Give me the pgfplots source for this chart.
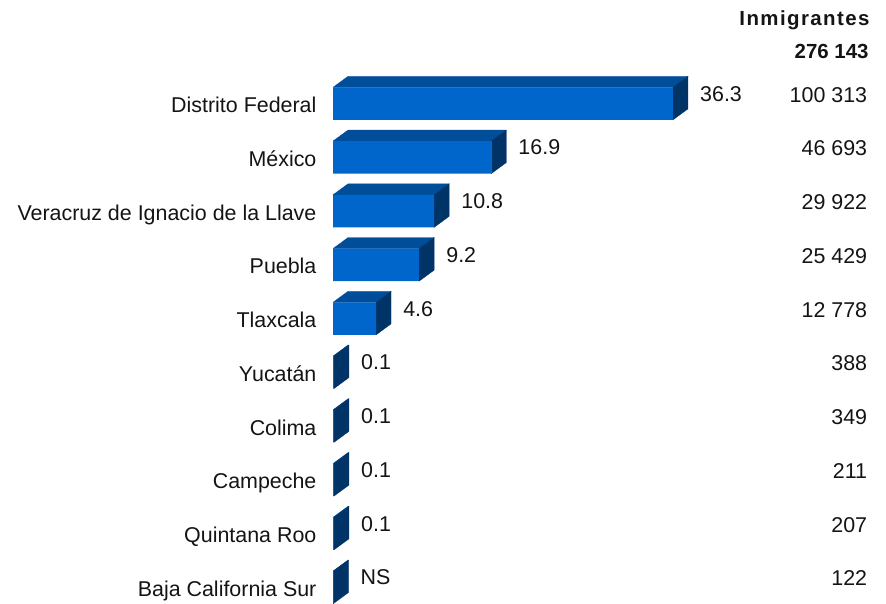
\documentclass[border=0pt]{standalone}
\usepackage{pgfplots}
\usepackage{pgfplotstable}
\pgfplotsset{compat=1.18}
\usepackage{fontspec}
\setmainfont{Liberation Sans}
\newfontfamily\headfont[LetterSpace=7]{Liberation Sans}
\definecolor{front}{RGB}{0,102,204}
\definecolor{topc}{RGB}{0,77,153}
\definecolor{sidec}{RGB}{0,51,102}
\definecolor{txt}{RGB}{20,20,20}

\pgfplotstableread[col sep=comma]{
idx,val,lab,count,name
0,36.3,36.3,100 313,Distrito Federal
1,16.9,16.9,46 693,México
2,10.8,10.8,29 922,Veracruz de Ignacio de la Llave
3,9.2,9.2,25 429,Puebla
4,4.6,4.6,12 778,Tlaxcala
5,0.1,0.1,388,Yucatán
6,0.1,0.1,349,Colima
7,0.1,0.1,211,Campeche
8,0.1,0.1,207,Quintana Roo
9,0.04,NS,122,Baja California Sur
}\data

\begin{document}
\begin{tikzpicture}
\begin{axis}[
  scale only axis, width=886bp, height=604bp,
  xmin=-35.554, xmax=59.043, ymin=-1.9274, ymax=9.3098,
  y dir=reverse, hide axis, clip=false,
  every node near coord/.append style={font=\fontsize{21.5}{25}\selectfont, text=txt},
]
% 3D top and side faces
\pgfplotsinvokeforeach{0,...,9}{
  \pgfplotstablegetelem{#1}{val}\of\data
  \pgfmathsetmacro\xv{\pgfplotsretval}
  \pgfmathsetmacro\xe{\xv+1.6015}
  \pgfmathsetmacro\yt{#1-0.3023}
  \pgfmathsetmacro\yb{#1+0.3023}
  \pgfmathsetmacro\ytt{#1-0.3023-0.2047}
  \pgfmathsetmacro\ybb{#1+0.3023-0.2047}
  \edef\temp{%
    \noexpand\addplot[fill=topc, draw=topc, line width=0.3bp, mark=none] coordinates {(0,\yt) (\xv,\yt) (\xe,\ytt) (1.6015,\ytt) (0,\yt)};
    \noexpand\addplot[fill=sidec, draw=sidec, line width=0.3bp, mark=none] coordinates {(\xv,\yt) (\xe,\ytt) (\xe,\ybb) (\xv,\yb) (\xv,\yt)};
  }
  \temp
}
% front faces with value labels
\addplot[xbar, bar width=32.5bp, bar shift=0pt, fill=front, draw=none,
  nodes near coords, point meta=explicit symbolic,
  nodes near coords style={anchor=base west, inner sep=0pt, xshift=27bp, yshift=2.5bp}]
  table[x=val, y=idx, meta=lab] {\data};
% category names
\addplot[draw=none, mark=none, nodes near coords, point meta=explicit symbolic,
  nodes near coords style={anchor=base east, inner sep=0pt, yshift=-9bp}]
  table[x expr=-1.75, y=idx, meta=name] {\data};
% immigrant counts
\addplot[draw=none, mark=none, nodes near coords, point meta=explicit symbolic,
  nodes near coords style={anchor=base east, inner sep=0pt, yshift=1.5bp}]
  table[x expr=57.05, y=idx, meta=count] {\data};
\node[anchor=base east, inner sep=0pt, text=txt, font=\headfont\bfseries\fontsize{20.5}{24}\selectfont] at (axis cs:57.3,-1.4437) {Inmigrantes};
\node[anchor=base east, inner sep=0pt, text=txt, font=\bfseries\fontsize{20.5}{24}\selectfont] at (axis cs:57.2,-0.8428) {276 143};
\path (rel axis cs:0,0) rectangle (rel axis cs:1,1);
\end{axis}
\end{tikzpicture}
\end{document}
